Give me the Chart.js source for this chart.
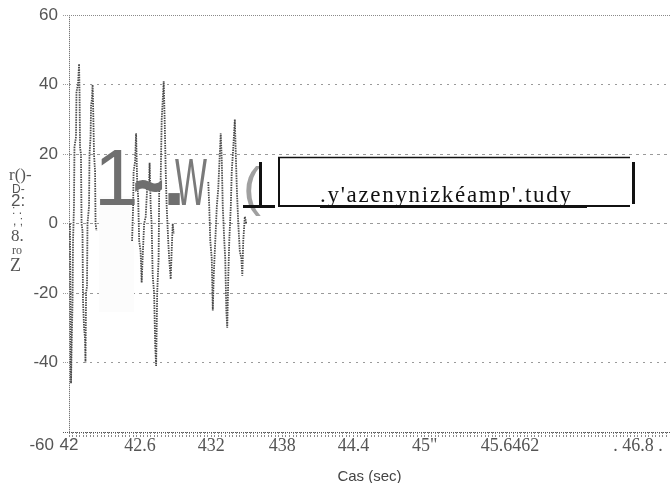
<!DOCTYPE html>
<html>
<head>
<meta charset="utf-8">
<script src="https://cdn.jsdelivr.net/npm/chart.js@4/dist/chart.umd.min.js"></script>
<style>
  html, body { margin: 0; padding: 0; background: #fff; }
  #wrap { width: 670px; height: 483px; }
</style>
</head>
<body>
<div id="wrap"><canvas id="c" width="670" height="483"></canvas></div>
<script>
// Recorded oscillation bursts: time (s) and amplitude
const burst1Time = [42.008, 42.017, 42.021, 42.030, 42.034, 42.042, 42.046, 42.059, 42.063, 42.076,
                    42.085, 42.089, 42.093, 42.101, 42.106, 42.114, 42.118, 42.127, 42.135, 42.139,
                    42.144, 42.152, 42.156, 42.169, 42.173, 42.182, 42.186, 42.194, 42.199, 42.203,
                    42.211, 42.220, 42.224, 42.232];
const burst1Value = [0, -46, -38, -22, -5, 5, 22, 25, 38, 40,
                     46, 38, 22, 20, 0, -2, -22, -30, -33, -40,
                     -20, -18, 0, 5, 20, 25, 34, 36, 40, 35,
                     20, 15, 0, -2];

const burst2Time = [42.532, 42.541, 42.545, 42.558, 42.566, 42.575, 42.583, 42.592, 42.604, 42.613,
                    42.621, 42.634, 42.647, 42.659, 42.676, 42.680, 42.689, 42.697, 42.706, 42.718,
                    42.727, 42.735, 42.744, 42.756, 42.761, 42.773, 42.782, 42.790, 42.799, 42.807,
                    42.816, 42.824, 42.837, 42.845, 42.858, 42.866, 42.875, 42.883];
const burst2Value = [-5, 5, 15, 18, 26, 12, 8, -5, -8, -17,
                     -10, 0, 2, 10, 12, 17.5, 5, 0, -15, -20,
                     -35, -41, -20, -10, 10, 12, 30, 35, 41, 30,
                     15, 5, -5, -10, -16, -8, 0, -3];

const burst3Time = [43.175, 43.183, 43.192, 43.204, 43.213, 43.221, 43.234, 43.247, 43.259, 43.272,
                    43.280, 43.289, 43.297, 43.310, 43.318, 43.327, 43.335, 43.344, 43.352, 43.365,
                    43.373, 43.386, 43.399, 43.407, 43.416, 43.428, 43.441, 43.454, 43.462, 43.470,
                    43.483, 43.496];
const burst3Value = [12, 5, -5, -10, -25, -15, -5, 5, 10, 20,
                     26, 18, 5, -5, -10, -25, -30, -15, -5, 5,
                     15, 22, 30, 20, 10, 0, -8, -10, -15, -5,
                     2, 0];

// Axis ticks
const xTickValues = [42, 42.6, 43.2, 43.8, 44.4, 45.0, 45.72, 46.8];
const xTickLabels = ['42', '42.6', '432', '438', '44.4', '45"', '45.6462', '. 46.8 .'];
const xMinorStep = 0.03;
const yTickValues = [60, 40, 20, 0, -20, -40, -60];

const toPoints = (t, v) => t.map((x, i) => ({ x: x, y: v[i] }));
const near = (a, b) => Math.abs(a - b) < 1e-6;

const traceStyle = {
  borderColor: '#4a4a4a',
  borderWidth: 1.8,
  borderDash: [1.5, 1],
  pointRadius: 0,
  tension: 0,
  fill: false
};

// Decorations drawn on top of the plot: annotations and the vertical axis caption
const overlayPlugin = {
  id: 'overlay',
  beforeDatasetsDraw(chart) {
    const ctx = chart.ctx;
    ctx.save();
    ctx.fillStyle = '#fcfcfc';
    ctx.fillRect(99, 196, 35, 116);
    ctx.restore();
  },
  afterDraw(chart) {
    const ctx = chart.ctx;
    ctx.save();
    ctx.textAlign = 'left';
    ctx.textBaseline = 'alphabetic';

    // large grey marks
    ctx.fillStyle = '#6f6f6f';
    ctx.font = '80px "Liberation Sans", Arial, sans-serif';
    ctx.fillText('1', 94, 205);

    ctx.save();
    ctx.translate(134, 207);
    ctx.scale(1, 1.3);
    ctx.font = 'bold 50px "Liberation Sans", Arial, sans-serif';
    ctx.strokeStyle = '#6f6f6f';
    ctx.lineWidth = 1.5;
    ctx.fillText('~', 0, 0);
    ctx.strokeText('~', 0, 0);
    ctx.restore();

    ctx.font = 'bold 80px "Liberation Sans", Arial, sans-serif';
    ctx.fillText('.', 163, 205);
    ctx.fillStyle = '#7a7a7a';
    ctx.font = '67px "Liberation Sans", Arial, sans-serif';
    ctx.fillText('W', 175, 205, 32);
    ctx.fillStyle = '#a0a0a0';
    ctx.font = '54px "Liberation Sans", Arial, sans-serif';
    ctx.fillText('(', 243, 205);

    // black bracket mark
    ctx.fillStyle = '#111';
    ctx.fillRect(259, 162, 3, 43);
    ctx.fillRect(243, 205, 32, 3);

    // boxed caption
    ctx.strokeStyle = '#111';
    ctx.lineWidth = 1.5;
    ctx.beginPath();
    ctx.moveTo(278, 157.5); ctx.lineTo(630, 157.5);
    ctx.stroke();
    ctx.lineWidth = 2;
    ctx.beginPath();
    ctx.moveTo(279, 157); ctx.lineTo(279, 207);
    ctx.moveTo(278, 206); ctx.lineTo(630, 206);
    ctx.stroke();
    ctx.fillRect(632, 162, 3, 42);

    ctx.fillStyle = '#111';
    ctx.font = '23px "Liberation Serif", "Times New Roman", serif';
    if ('letterSpacing' in ctx) ctx.letterSpacing = '1.7px';
    ctx.fillText(".y'azenynizkéamp'.tudy", 320, 202);
    if ('letterSpacing' in ctx) ctx.letterSpacing = '0px';
    ctx.fillRect(320, 205, 267, 3);

    // vertical axis caption
    ctx.fillStyle = '#555';
    ctx.font = '17px "Liberation Serif", serif';
    ctx.fillText('r()-', 9, 180);
    ctx.font = '12px "Liberation Sans", sans-serif';
    ctx.fillText('D-', 12, 193);
    ctx.font = '17px "Liberation Sans", sans-serif';
    ctx.fillText('2:', 11, 206);
    ctx.font = '12px "Liberation Sans", sans-serif';
    ctx.fillText(': .', 12, 214);
    ctx.fillText(', ;', 13, 225);
    ctx.font = '17px "Liberation Serif", serif';
    ctx.fillText('8.', 11, 241);
    ctx.font = '12px "Liberation Serif", serif';
    ctx.fillText('ro', 12, 254);
    ctx.font = '18px "Liberation Serif", serif';
    ctx.fillText('Z', 10, 271);

    // lowest value label sits on the time label row
    ctx.font = '17px "Liberation Sans", Arial, sans-serif';
    ctx.textAlign = 'right';
    ctx.fillText('-60', 54, 450);
    ctx.restore();
  }
};

new Chart(document.getElementById('c'), {
  type: 'line',
  data: {
    datasets: [
      Object.assign({ data: toPoints(burst1Time, burst1Value) }, traceStyle),
      Object.assign({ data: toPoints(burst2Time, burst2Value) }, traceStyle),
      Object.assign({ data: toPoints(burst3Time, burst3Value) }, traceStyle)
    ]
  },
  options: {
    responsive: false,
    animation: false,
    devicePixelRatio: 1,
    layout: { padding: { top: 15, right: 0, bottom: 0, left: 0 } },
    plugins: { legend: { display: false }, tooltip: { enabled: false } },
    scales: {
      x: {
        type: 'linear',
        min: 42,
        max: 47.07,
        afterBuildTicks(scale) {
          const ticks = [];
          for (let v = scale.min; v <= scale.max + 1e-9; v += xMinorStep) {
            ticks.push({ value: Math.round(v * 1000) / 1000 });
          }
          scale.ticks = ticks;
        },
        afterFit(scale) { scale.height = 51; },
        ticks: {
          autoSkip: false,
          maxRotation: 0,
          minRotation: 0,
          padding: -2,
          color: '#555',
          font: (c) => (c.tick && near(c.tick.value, 42))
            ? { family: '"Liberation Sans", Arial, sans-serif', size: 17 }
            : { family: '"Liberation Serif", "Times New Roman", serif', size: 18 },
          callback: (value) => {
            const i = xTickValues.findIndex(v => near(v, value));
            return i >= 0 ? xTickLabels[i] : '';
          }
        },
        grid: {
          display: true,
          drawOnChartArea: true,
          color: (c) => (c.tick && near(c.tick.value, 42)) ? '#555' : 'rgba(0,0,0,0)',
          lineWidth: 1,
          drawTicks: true,
          tickLength: 5,
          tickColor: '#8a8a8a',
          tickWidth: 1,
          tickBorderDash: [2, 1]
        },
        border: { display: false, dash: [1, 1] },
        title: {
          display: true,
          text: 'Cas (sec)',
          color: '#444',
          font: { family: '"Liberation Sans", Arial, sans-serif', size: 15 },
          padding: { top: 2, bottom: -3 }
        }
      },
      y: {
        type: 'linear',
        min: -60,
        max: 60,
        afterBuildTicks(scale) {
          scale.ticks = yTickValues.map(v => ({ value: v }));
        },
        afterFit(scale) { scale.width = 69; },
        ticks: {
          padding: 5,
          color: '#555',
          font: { family: '"Liberation Sans", Arial, sans-serif', size: 17 },
          callback: (value) => value === -60 ? '' : String(value)
        },
        grid: {
          color: (c) => {
            const v = c.tick ? c.tick.value : 0;
            if (v === -60) return '#555';
            if (v === 60) return '#8a8a8a';
            return '#9a9a9a';
          },
          tickColor: (c) => (c.tick && c.tick.value === -60) ? '#555' : '#9a9a9a',
          lineWidth: 1,
          tickLength: 6,
          tickBorderDash: [1, 1]
        },
        border: {
          display: false,
          dash: (c) => {
            const v = c.tick ? c.tick.value : 0;
            if (v === 60 || v === -60) return [1, 1];
            if (v === 40 || v === -40) return [2, 5];
            return [3, 4];
          }
        }
      }
    }
  },
  plugins: [overlayPlugin]
});
</script>
</body>
</html>
